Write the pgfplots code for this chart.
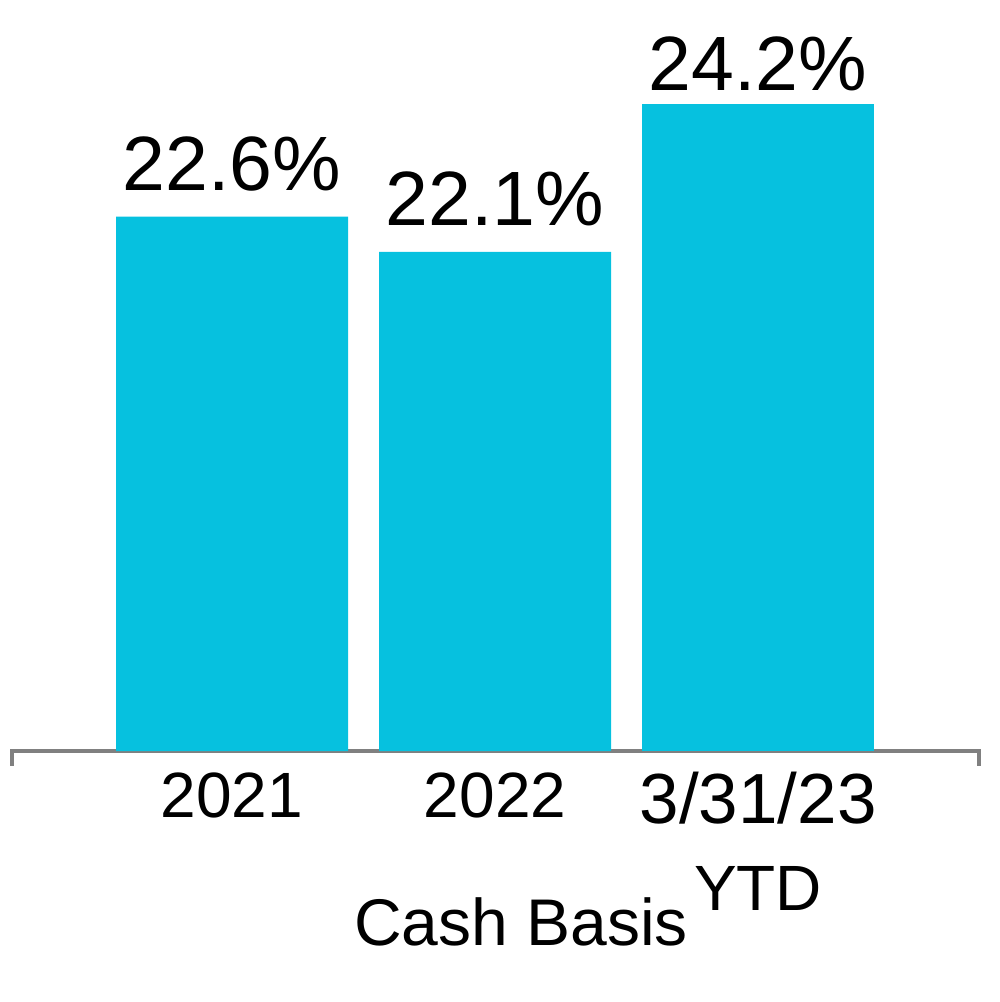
\documentclass[border=0pt]{standalone}
\usepackage{pgfplots}
\pgfplotsset{compat=1.18}
\usepackage{fontspec}
\setmainfont{Liberation Sans}
\definecolor{barcyan}{RGB}{6,193,223}
\definecolor{axisgray}{RGB}{128,128,128}
\begin{document}
\begin{tikzpicture}
\path[use as bounding box] (0,0) rectangle (500pt,501pt);
\begin{axis}[
  at={(6pt,125.5pt)}, anchor=south west,
  scale only axis, width=483.5pt, height=351.5pt,
  xmin=-0.8365, xmax=2.840, ymin=15, ymax=25,
  axis x line*=bottom, axis y line=none,
  x axis line style={draw=axisgray, line width=1.6pt},
  ytick=\empty,
  xtick={0,1,2},
  xticklabels={2021,2022,{\fontsize{35.5}{42.5}\selectfont 3/31/23\\[5.5pt]YTD}},
  xtick style={draw=none},
  major tick length=0pt,
  xticklabel style={font=\fontsize{32}{38}\selectfont, anchor=north, inner sep=0pt, yshift=-10.5pt, align=center},
  xlabel={Cash Basis},
  xlabel style={at={(axis description cs:0.5264,0)}, anchor=base, yshift=-97pt, font=\fontsize{33}{40}\selectfont},
  ybar, bar width=116pt,
  point meta=explicit symbolic,
  nodes near coords,
  clip=false,
]
\addplot[fill=barcyan, draw=none, bar shift=0pt,
  nodes near coords style={font=\fontsize{38.5}{46}\selectfont, anchor=base, inner sep=0pt, yshift=13pt, text=black}]
  coordinates {(0,22.6) [22.6\%] (1,22.1) [22.1\%]};
\addplot[fill=barcyan, draw=none, bar shift=0pt,
  nodes near coords style={font=\fontsize{38.5}{46}\selectfont, anchor=base, inner sep=0pt, yshift=7pt, text=black}]
  coordinates {(2,24.2) [24.2\%]};
\draw[axisgray, line width=1.6pt] ([yshift=0.8pt]axis cs:-0.8365,15) -- ([yshift=-7.5pt]axis cs:-0.8365,15);
\draw[axisgray, line width=1.6pt] ([yshift=0.8pt]axis cs:2.840,15) -- ([yshift=-7.5pt]axis cs:2.840,15);
\end{axis}
\end{tikzpicture}
\end{document}
